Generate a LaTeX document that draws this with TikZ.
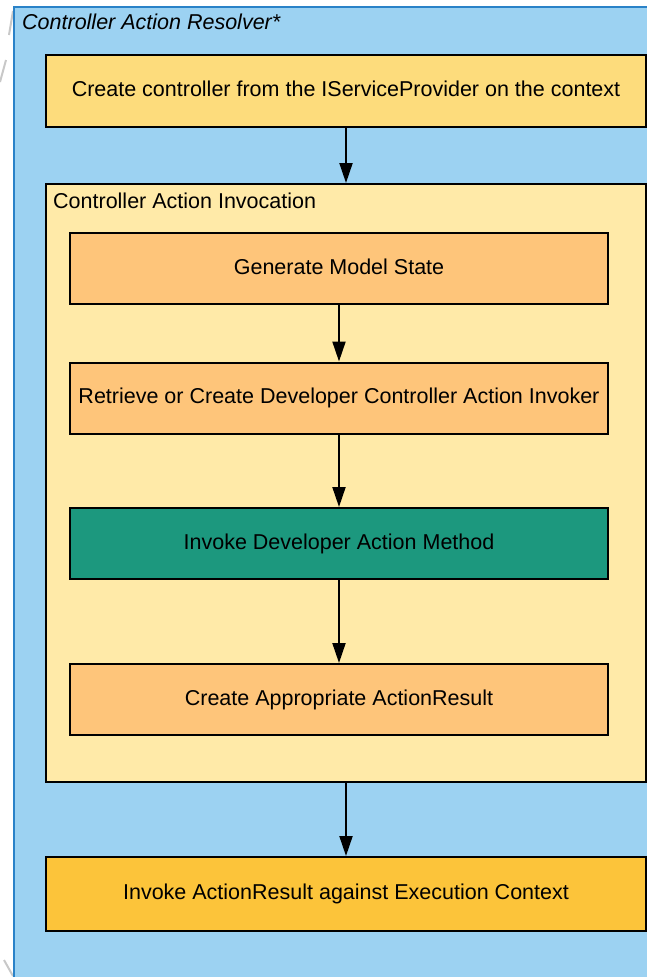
\documentclass[tikz,border=0pt]{standalone}
\usepackage{fontspec}
\setmainfont{Liberation Sans}
\usetikzlibrary{arrows.meta}

\definecolor{resolverblue}{RGB}{156,210,242}
\definecolor{resolveredge}{RGB}{42,130,200}
\definecolor{creategold}{RGB}{253,220,124}
\definecolor{invocbg}{RGB}{255,234,168}
\definecolor{stageorange}{RGB}{254,197,122}
\definecolor{methodteal}{RGB}{28,152,126}
\definecolor{execgold}{RGB}{252,196,58}
\definecolor{straygray}{RGB}{200,200,200}

\tikzset{
  box/.style={draw=black, line width=2pt, inner sep=0pt, align=center,
    text height=16pt, text depth=5pt,
    font=\fontsize{21.5}{25}\selectfont},
  widebox/.style={box, minimum width=600, minimum height=72},
  stagebox/.style={box, fill=stageorange, minimum width=538, minimum height=71},
  flow/.style={line width=2pt, -{Triangle[length=20pt,width=13pt]}},
}

\begin{document}
\begin{tikzpicture}[x=1pt,y=-1pt]
  \useasboundingbox (0,0) rectangle (647,977);
  \clip (0,0) rectangle (647,977);

  % stray marks on the left
  \draw[straygray, line width=2pt] (9,35) -- (13,11);
  \draw[straygray, line width=2pt] (0,82) -- (6,60);
  \draw[straygray, line width=2pt] (4,960) -- (13,976);

  % outer frame
  \draw[resolveredge, fill=resolverblue, line width=2pt] (14,7) rectangle (700,1000);
  \node[anchor=west, font=\fontsize{21.5}{25}\selectfont\itshape, inner sep=0pt]
    (resolverlabel) at (22,22) {Controller Action Resolver*};

  \node[widebox, fill=creategold] (create) at (346,91)
    {Create controller from the IServiceProvider on the context};

  % invocation group
  \node[box, fill=invocbg, minimum width=600, minimum height=598] (invocation) at (346,483) {};
  \node[anchor=west, font=\fontsize{21.5}{25}\selectfont, inner sep=0pt]
    (invoclabel) at (53,201) {Controller Action Invocation};

  \node[stagebox] (modelstate) at (339,268.5) {Generate Model State};
  \node[stagebox] (invoker) at (339,398) {Retrieve or Create Developer Controller Action Invoker};
  \node[stagebox, fill=methodteal] (method) at (339,543.5) {Invoke Developer Action Method};
  \node[stagebox] (result) at (339,699.5) {Create Appropriate ActionResult};

  \node[widebox, fill=execgold, minimum height=74] (execute) at (346,894)
    {Invoke ActionResult against Execution Context};

  \draw[flow] (create) -- (invocation);
  \draw[flow] (modelstate) -- (invoker);
  \draw[flow] (invoker) -- (method);
  \draw[flow] (method) -- (result);
  \draw[flow] (invocation) -- (execute);
\end{tikzpicture}
\end{document}
